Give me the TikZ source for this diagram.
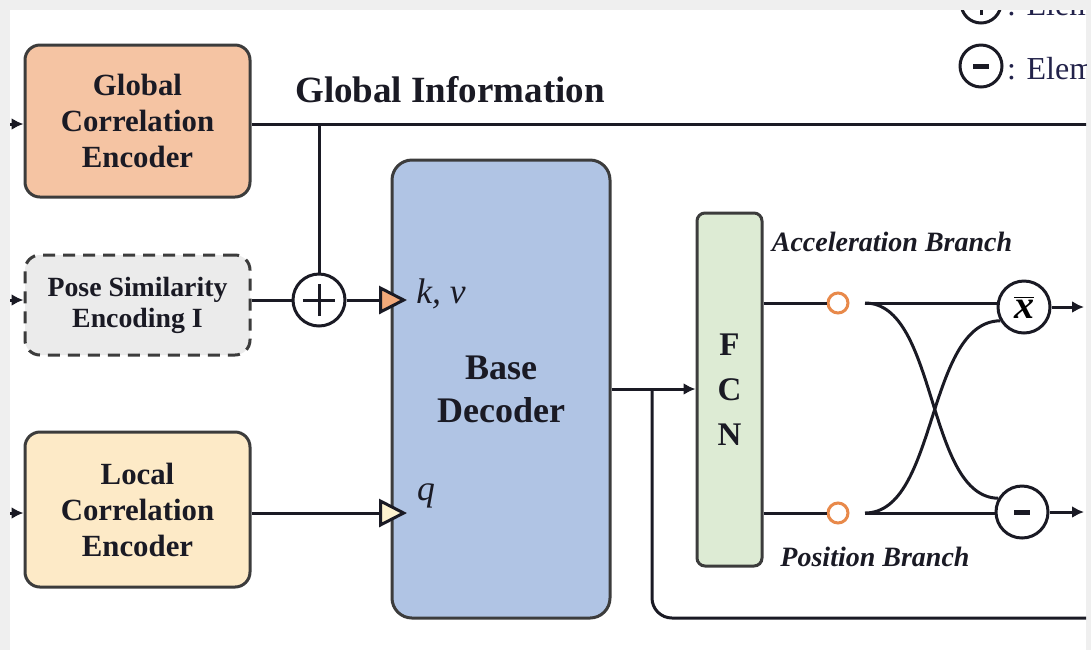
\documentclass[tikz,border=0pt]{standalone}
\usepackage{fontspec}
\setmainfont{Liberation Serif}
\usetikzlibrary{arrows.meta,calc}

\definecolor{frame}{HTML}{EFEFEF}
\definecolor{edge}{HTML}{3C3C3C}
\definecolor{gcefill}{HTML}{F5C4A3}
\definecolor{psefill}{HTML}{EBEBEB}
\definecolor{lcefill}{HTML}{FDEAC7}
\definecolor{decfill}{HTML}{B0C4E4}
\definecolor{fcnfill}{HTML}{DDEBD4}
\definecolor{kvtip}{HTML}{F2A97A}
\definecolor{qtip}{HTML}{FDF2CF}
\definecolor{ring}{HTML}{E8894A}
\definecolor{ink}{HTML}{1A1A24}
\definecolor{legendink}{HTML}{22224A}

\begin{document}
\begin{tikzpicture}[x=0.5pt,y=-0.5pt,
  block/.style={draw=edge, line width=1.5pt, rounded corners=7.5pt, align=center,
    font=\bfseries\fontsize{15.4}{18}\selectfont, text=ink, inner sep=0pt},
  wire/.style={draw=ink, line width=1.5pt},
  into/.style={-{Latex[length=6pt,width=6pt]}},
  op/.style={circle, draw=ink, line width=1.5pt, fill=white, inner sep=0pt, minimum size=26pt},
  plusop/.style={op, path picture={
      \draw[ink, line width=1.5pt] ([xshift=-0.62*#1]path picture bounding box.center) -- ([xshift=0.62*#1]path picture bounding box.center);
      \draw[ink, line width=1.5pt] ([yshift=-0.62*#1]path picture bounding box.center) -- ([yshift=0.62*#1]path picture bounding box.center);}},
  minusop/.style={op, path picture={
      \draw[ink, line width=2.5pt] ([xshift=-#1]path picture bounding box.center) -- ([xshift=#1]path picture bounding box.center);}},
  tap/.style={circle, draw=ring, line width=1.5pt, fill=white, inner sep=0pt, minimum size=10pt},
  branchlabel/.style={font=\bfseries\itshape\fontsize{14}{16}\selectfont, text=ink},
  portlabel/.style={font=\itshape\fontsize{17.8}{20}\selectfont, text=ink},
  legendtext/.style={anchor=west, font=\fontsize{16}{18}\selectfont, text=legendink},
]
% page frame
\fill[frame] (0,0) rectangle (1091,650);
\fill[white] (10,10) rectangle (1086,650);
\useasboundingbox (0,0) rectangle (1091,650);

\begin{scope}
\clip (10,10) rectangle (1086,650);

% encoders
\node[block, fill=gcefill, minimum width=112.5pt, minimum height=76pt] (gce) at (137.5,121) {Global\\Correlation\\Encoder};
\node[block, fill=psefill, dashed, dash pattern=on 6pt off 4pt, minimum width=112.5pt, minimum height=50pt,
      font=\bfseries\fontsize{13.9}{15.5}\selectfont] (pse) at (137.5,305) {Pose Similarity\\Encoding I};
\node[block, fill=lcefill, minimum width=112.5pt, minimum height=77.5pt] (lce) at (137.5,509.5) {Local\\Correlation\\Encoder};

% decoder and FCN
\node[block, fill=decfill, rounded corners=10pt, minimum width=109pt, minimum height=229pt,
      font=\bfseries\fontsize{18}{21.5}\selectfont] (dec) at (501,389) {Base\\Decoder};
\node[block, fill=fcnfill, rounded corners=4pt, minimum width=32.5pt, minimum height=176.5pt,
      font=\bfseries\fontsize{16.5}{22.5}\selectfont] (fcn) at (729.5,389.5) {F\\C\\N};

% operators
\node[plusop=13pt] (plus) at (319,300) {};
\node[op] (xbar) at (1024,307) {\fontsize{20}{20}\selectfont$\overline{\mbox{\bfseries\itshape x}}$};
\node[minusop=4pt] (sub) at (1022,512) {};
\node[tap] (atap) at (838,303) {};
\node[tap] (ptap) at (838,513) {};

% labels
\node[font=\bfseries\fontsize{18.5}{20}\selectfont, text=ink] (ginfo) at (450,90) {Global Information};
\node[portlabel] (kv) at (441,294) {k, v};
\node[portlabel] (ql) at (426,496) {q};
\node[branchlabel] (alab) at (892,242) {Acceleration Branch};
\node[branchlabel] (plab) at (875,557) {Position Branch};

% legend
\node[plusop=10pt, minimum size=20pt] (ladd) at (981,3) {};
\node[legendtext] (laddt) at (1000,5) {: Element};
\node[minusop=4pt, minimum size=21pt] (lsub) at (981,66) {};
\node[legendtext] (lsubt) at (1000,69) {: Element};

% junction points and free ends
\coordinate (gj) at (319,124);
\coordinate (gend) at (1090,124);
\coordinate (in1) at (6,124);
\coordinate (in2) at (6,300);
\coordinate (in3) at (6,513);
\coordinate (kvin) at (407,300);
\coordinate (qin) at (407,513);
\coordinate (dj) at (652,389);
\coordinate (loopend) at (1090,618);
\coordinate (asplit) at (865,303);
\coordinate (psplit) at (865,513);
\coordinate (aout) at (1084,307);
\coordinate (pout) at (1084,512);

% inputs
\draw[wire, into] (in1) -- (in1 -| gce.west);
\draw[wire, into] (in2) -- (in2 -| pse.west);
\draw[wire, into] (in3) -- (in3 -| lce.west);

% global information path
\draw[wire] (gj -| gce.east) -- (gend);
\draw[wire] (gj) -- (plus.north);
\draw[wire] (pse.east |- plus) -- (plus.west);
\draw[wire, -{Triangle[length=14pt,width=14pt,fill=kvtip]}] (plus.east) -- (kvin);
\draw[wire, -{Triangle[length=14pt,width=14pt,fill=qtip]}] (qin -| lce.east) -- (qin);

% decoder output
\draw[wire, into] (dec.east |- dj) -- (fcn.west |- dj);
\draw[wire, rounded corners=10pt] (dj) |- (loopend);

% branches
\draw[wire] (fcn.east |- atap) -- (atap.west);
\draw[wire] (fcn.east |- ptap) -- (ptap.west);
\draw[wire] (asplit) -- (xbar.west |- asplit);
\draw[wire] (psplit) -- (sub.west |- psplit);
\draw[wire] (asplit) .. controls (938,303) and (926,497) .. (sub.150);
\draw[wire] (psplit) .. controls (938,513) and (926,322) .. (xbar.210);
\draw[wire, into] (xbar.east) -- (aout);
\draw[wire, into] (sub.east) -- (pout);
\end{scope}
\end{tikzpicture}
\end{document}
